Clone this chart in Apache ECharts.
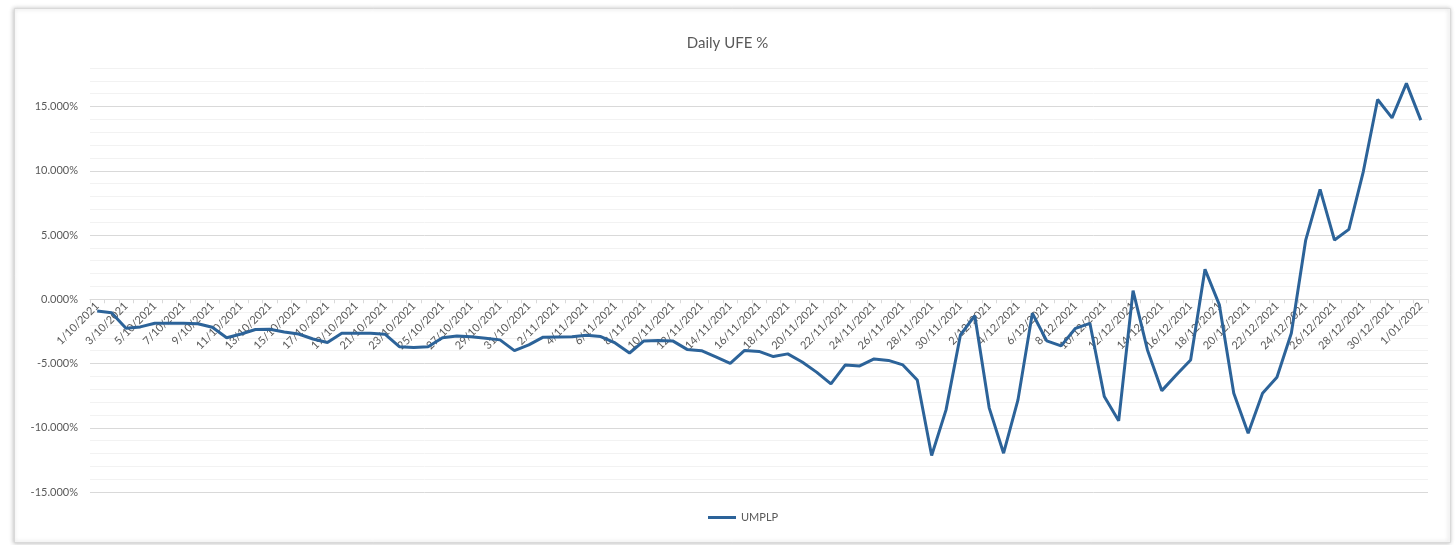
<!DOCTYPE html>
<html>
<head>
<meta charset="utf-8">
<script src="https://cdn.jsdelivr.net/npm/echarts@6/dist/echarts.min.js"></script>
<style>
  html, body { margin: 0; padding: 0; background: #ffffff; }
  #daily_ufe { width: 1455px; height: 545px; }
</style>
</head>
<body>
<div id="daily_ufe"></div>
<script>
var dates = [
    '1/10/2021', '2/10/2021', '3/10/2021', '4/10/2021', '5/10/2021', '6/10/2021', '7/10/2021', '8/10/2021',
    '9/10/2021', '10/10/2021', '11/10/2021', '12/10/2021', '13/10/2021', '14/10/2021', '15/10/2021', '16/10/2021',
    '17/10/2021', '18/10/2021', '19/10/2021', '20/10/2021', '21/10/2021', '22/10/2021', '23/10/2021', '24/10/2021',
    '25/10/2021', '26/10/2021', '27/10/2021', '28/10/2021', '29/10/2021', '30/10/2021', '31/10/2021',
    '1/11/2021', '2/11/2021', '3/11/2021', '4/11/2021', '5/11/2021', '6/11/2021', '7/11/2021', '8/11/2021',
    '9/11/2021', '10/11/2021', '11/11/2021', '12/11/2021', '13/11/2021', '14/11/2021', '15/11/2021', '16/11/2021',
    '17/11/2021', '18/11/2021', '19/11/2021', '20/11/2021', '21/11/2021', '22/11/2021', '23/11/2021', '24/11/2021',
    '25/11/2021', '26/11/2021', '27/11/2021', '28/11/2021', '29/11/2021', '30/11/2021',
    '1/12/2021', '2/12/2021', '3/12/2021', '4/12/2021', '5/12/2021', '6/12/2021', '7/12/2021', '8/12/2021',
    '9/12/2021', '10/12/2021', '11/12/2021', '12/12/2021', '13/12/2021', '14/12/2021', '15/12/2021', '16/12/2021',
    '17/12/2021', '18/12/2021', '19/12/2021', '20/12/2021', '21/12/2021', '22/12/2021', '23/12/2021', '24/12/2021',
    '25/12/2021', '26/12/2021', '27/12/2021', '28/12/2021', '29/12/2021', '30/12/2021', '31/12/2021',
    '1/01/2022'
];

// daily UFE, in percent
var umplp = [
    -0.92, -1.05, -2.26, -2.15, -1.87, -1.87, -1.87, -1.90, -2.18, -2.99,
    -2.70, -2.35, -2.33, -2.54, -2.70, -3.09, -3.36, -2.64, -2.64, -2.64,
    -2.72, -3.69, -3.76, -3.69, -2.99, -2.85, -2.91, -3.03, -3.16, -4.00,
    -3.55, -2.95, -2.93, -2.91, -2.80, -2.90, -3.40, -4.18, -3.24, -3.20,
    -3.24, -3.90, -4.00, -4.49, -4.98, -3.98, -4.06, -4.46, -4.25, -4.88,
    -5.67, -6.59, -5.11, -5.19, -4.64, -4.76, -5.11, -6.28, -12.16, -8.61,
    -2.78, -1.28, -8.45, -11.98, -7.83, -1.09, -3.24, -3.63, -2.26, -1.87,
    -7.57, -9.46, 0.67, -3.94, -7.11, -5.89, -4.72, 2.33, -0.44, -7.31,
    -10.42, -7.31, -6.07, -2.64, 4.61, 8.55, 4.61, 5.44, 9.92, 15.55,
    14.12, 16.80, 13.94
];

var yMin = -15;
var yMax = 18;

var gridTop = 68;
var gridBottom = 53;
var chartHeight = 545;
// the date axis sits on the 0% line, like the excel chart
var plotHeight = chartHeight - gridTop - gridBottom;
var zeroOffset = -plotHeight * (0 - yMin) / (yMax - yMin);

var myChart = echarts.init(document.getElementById('daily_ufe'));
myChart.setOption({
    backgroundColor: '#ffffff',
    textStyle: {
        fontFamily: 'Lato, "Liberation Sans", sans-serif'
    },
    graphic: [{
        type: 'rect',
        left: 14,
        top: 8,
        shape: {width: 1436, height: 534},
        style: {
            fill: '#ffffff',
            stroke: '#d9d9d9',
            lineWidth: 1,
            shadowBlur: 4,
            shadowColor: 'rgba(0, 0, 0, 0.25)',
            shadowOffsetX: -1
        },
        z: -10
    }],
    title: {
        text: 'Daily UFE %',
        left: 'center',
        top: 31,
        textStyle: {
            color: '#595959',
            fontSize: 15,
            fontWeight: 'normal'
        }
    },
    legend: {
        bottom: 17,
        left: 703,
        icon: 'rect',
        itemWidth: 28,
        itemHeight: 3,
        itemGap: 4,
        textStyle: {
            color: '#595959',
            fontSize: 11
        },
        data: ['UMPLP']
    },
    grid: {
        left: 90,
        right: 27,
        top: gridTop,
        bottom: gridBottom,
        containLabel: false
    },
    xAxis: {
        type: 'category',
        data: dates,
        boundaryGap: true,
        position: 'bottom',
        offset: zeroOffset,
        axisLine: {
            onZero: false,
            lineStyle: {color: '#d9d9d9', width: 1}
        },
        axisTick: {
            show: true,
            interval: 0,
            length: 4,
            lineStyle: {color: '#d9d9d9'}
        },
        axisLabel: {
            interval: 1,
            rotate: 45,
            margin: 5,
            color: '#595959',
            fontSize: 11
        },
        splitLine: {show: false}
    },
    yAxis: {
        type: 'value',
        min: yMin,
        max: yMax,
        interval: 1,
        axisLine: {show: false},
        axisTick: {show: false},
        axisLabel: {
            color: '#595959',
            fontSize: 11,
            margin: 12,
            showMaxLabel: false,
            formatter: function (value) {
                if (value % 5 !== 0) {
                    return '';
                }
                return value.toFixed(3) + '%';
            }
        },
        splitLine: {
            show: true,
            lineStyle: {
                color: ['#d9d9d9', '#f2f2f2', '#f2f2f2', '#f2f2f2', '#f2f2f2'],
                width: 1
            }
        }
    },
    series: [{
        name: 'UMPLP',
        type: 'line',
        data: umplp,
        showSymbol: false,
        symbol: 'none',
        itemStyle: {color: '#2c6399'},
        lineStyle: {
            color: '#2c6399',
            width: 3
        },
        z: 3,
        animation: false
    }]
});
</script>
</body>
</html>
